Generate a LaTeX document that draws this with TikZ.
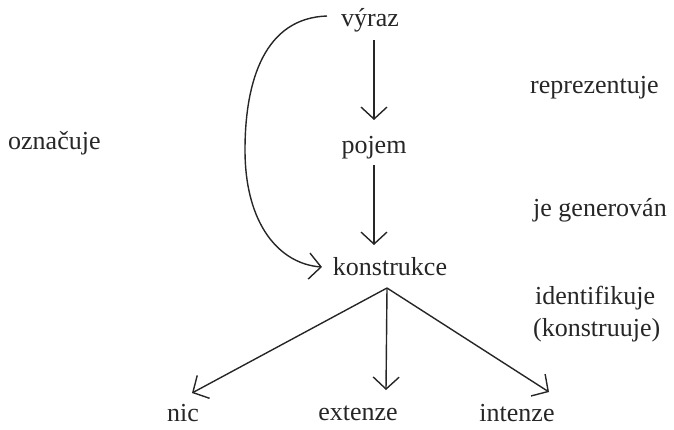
\documentclass[tikz,border=0pt]{standalone}
\usepackage{fontspec}
\setmainfont{Liberation Serif}
\usetikzlibrary{arrows.meta}
\begin{document}
\begin{tikzpicture}[x=1pt,y=-1pt,
  lbl/.style={font=\fontsize{26}{30}\selectfont, inner sep=0pt, text=black!85},
  arr/.style={line width=1.4pt, draw=black!85, -{Straight Barb[length=12pt,width=26pt,line width=1.4pt]}}]
\useasboundingbox (0,0) rectangle (674,429);
\node[lbl] (v) at (370,20) {výraz};
\node[lbl] (p) at (374,148) {pojem};
\node[lbl] (k) at (390,267) {konstrukce};
\node[lbl] (nic) at (183,413) {nic};
\node[lbl] (ext) at (358,413) {extenze};
\node[lbl] (int) at (517,413) {intenze};
\node[lbl, anchor=west] (r1) at (530,88) {reprezentuje};
\node[lbl, anchor=west] (r2) at (533,210) {je generován};
\node[lbl, anchor=west] (r3) at (535,298) {identifikuje};
\node[lbl, anchor=west] (r4) at (533,330) {(konstruuje)};
\node[lbl, anchor=west] (l1) at (8,143) {označuje};
% arrows
\draw[arr] ([xshift=4pt,yshift=-20pt]v.center) -- ([yshift=28pt]p.center);
\draw[arr] ([yshift=-17pt]p.center) -- ([xshift=-16pt,yshift=22pt]k.center);
\coordinate (kb) at ([xshift=-3pt,yshift=-21pt]k.center);
\draw[arr] (kb) -- ([xshift=9pt,yshift=20pt]nic.center);
\draw[arr] (kb) -- ([xshift=28pt,yshift=23pt]ext.center);
\draw[arr] (kb) -- ([xshift=32pt,yshift=21pt]int.center);
\draw[arr] ([xshift=-43pt,yshift=4pt]v.center) .. controls (265,18) and (245,80) .. (245,150)
  .. controls (245,225) and (280,264) .. ([xshift=-68pt]k.center);
\end{tikzpicture}
\end{document}
